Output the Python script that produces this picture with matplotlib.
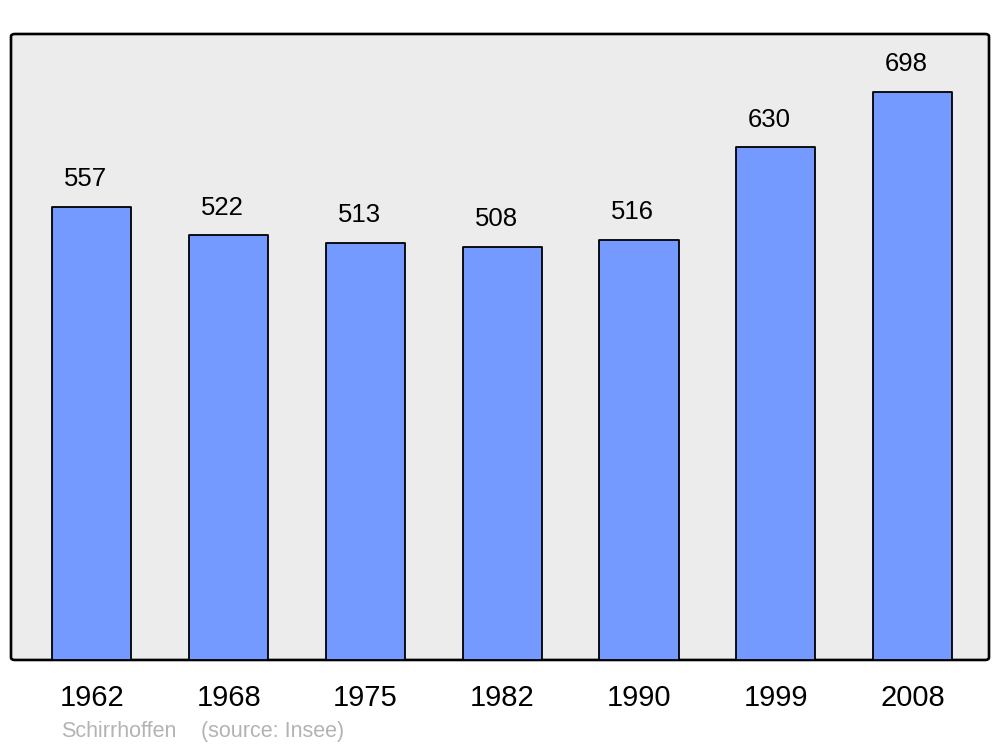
import numpy as np
import matplotlib.pyplot as plt
from matplotlib.patches import FancyBboxPatch

years = ["1962", "1968", "1975", "1982", "1990", "1999", "2008"]
population = [557, 522, 513, 508, 516, 630, 698]
town = "Schirrhoffen"
source = "(source: Insee)"

plt.rcParams['font.family'] = ['Liberation Sans', 'DejaVu Sans']

fig = plt.figure(figsize=(10, 7.47), dpi=100)
ax = fig.add_axes([0.011, 0.1165, 0.978, 0.838])
ax.set_facecolor("none")
for s in ax.spines.values():
    s.set_visible(False)

# rounded background frame
frame = FancyBboxPatch((0, 0), 1, 1, boxstyle="round,pad=0,rounding_size=0.004",
                       transform=ax.transAxes, facecolor="#ececec", edgecolor="black",
                       linewidth=1.9, zorder=0, clip_on=False)
ax.add_patch(frame)

x = np.arange(len(years))
bars = ax.bar(x, population, width=0.578, color="#7499ff", edgecolor="black",
              linewidth=1.3, zorder=2)
for b in bars:
    b.set_joinstyle("round")

for xi, v in zip(x, population):
    ax.annotate(str(v), (xi, v), xytext=(-4.5, 20), textcoords="offset points",
                ha="center", va="center", fontsize=18.5, zorder=3)

ax.set_xlim(-0.592, 6.559)
ax.set_ylim(0, 769.5)
ax.set_yticks([])
ax.set_xticks(x)
ax.set_xticklabels(years, fontsize=21)
ax.tick_params(axis="x", length=0, pad=17)

fig.text(0.061, 0.0134, town, color="#b3b3b3", fontsize=15.5, ha="left", va="baseline")
fig.text(0.201, 0.0134, source, color="#b3b3b3", fontsize=15.5, ha="left", va="baseline")

fig.savefig("out.png", dpi=100, facecolor="white")
